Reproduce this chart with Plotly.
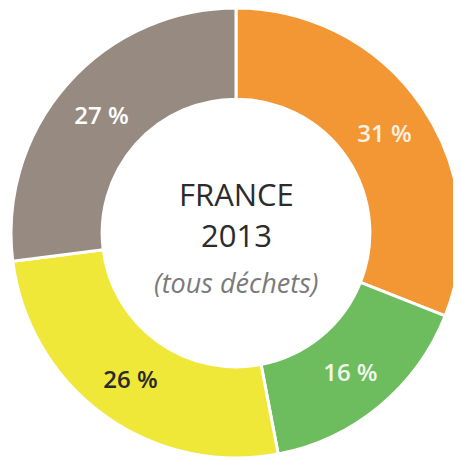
import plotly.graph_objects as go

categories = ["Catégorie A", "Catégorie B", "Catégorie C", "Catégorie D"]
values = [31, 16, 26, 27]
colors = ["#F39634", "#6DBD5E", "#EFE839", "#978B81"]
text_colors = ["#FDF1E2", "#F2F7EC", "#2A2A2A", "#FFFFFF"]

fig = go.Figure(go.Pie(
    labels=categories,
    values=values,
    hole=0.595,
    sort=False,
    direction="clockwise",
    rotation=0,
    marker=dict(colors=colors, line=dict(color="#FFFFFF", width=3)),
    texttemplate="%{value} %",
    textposition="inside",
    insidetextorientation="horizontal",
    textfont=dict(family="Open Sans", size=24, weight=600, color=text_colors),
    hoverinfo="label+value",
    showlegend=False,
))

fig.add_annotation(x=0.5, y=0.5, xref="paper", yref="paper",
                   text="FRANCE", showarrow=False,
                   yshift=39, font=dict(family="Open Sans", size=31, color="#2B2B2B"))
fig.add_annotation(x=0.5, y=0.5, xref="paper", yref="paper",
                   text="2013", showarrow=False,
                   yshift=-2, font=dict(family="Open Sans", size=31, color="#2B2B2B"))
fig.add_annotation(x=0.5, y=0.5, xref="paper", yref="paper",
                   text="<i>(tous déchets)</i>", showarrow=False,
                   yshift=-49, font=dict(family="Open Sans", size=27, color="#7A7A7A"))

fig.update_layout(
    width=461, height=460,
    margin=dict(l=0, r=5, t=0, b=10),
    paper_bgcolor="#FFFFFF",
    plot_bgcolor="#FFFFFF",
)

fig.write_html("out.html")
